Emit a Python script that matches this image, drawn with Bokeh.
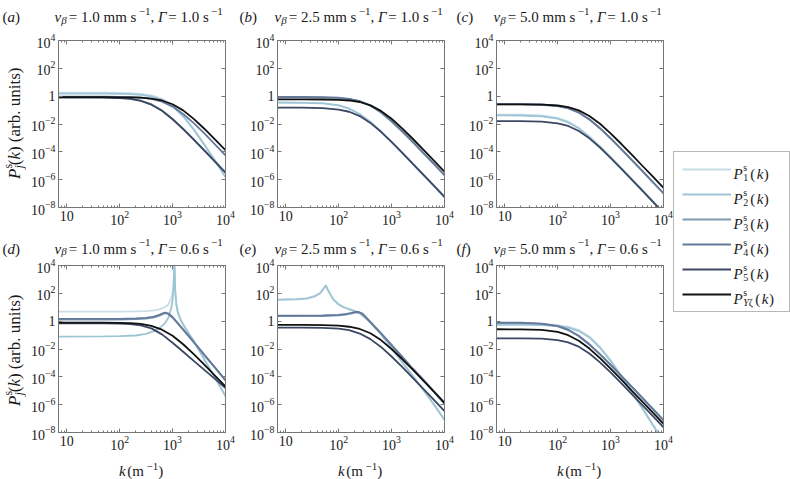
import math
import numpy as np
from bokeh.plotting import figure
from bokeh.models import (FixedTicker, LogTickFormatter, LogAxis, Label, Legend,
                          LegendItem, Range1d, CustomJSTickFormatter)
from bokeh.layouts import row, column
from bokeh.embed import file_html
from bokeh.resources import INLINE

# ---------------- data (k in m^-1, values are log10 of P) ----------------
SERIES = ["P1", "P2", "P3", "P4", "P5", "PYzeta"]
SUBS = ["1", "2", "3", "4", "5", "Yζ"]
COLORS = ["#c8dde8", "#9ec5d6", "#7d9ab0", "#63789a", "#3b4763", "#111111"]

X_TICKS = [10, 100, 1000, 10000]
Y_TICKS = [1e-8, 1e-6, 1e-4, 1e-2, 1, 1e2, 1e4]

K_GRID = [7, 20, 50, 100, 158, 251, 398, 631, 1000, 1585, 2512, 3981, 6310, 10000]

# (a) v=1.0, G=1.0
a_P1 = [0.25, 0.25, 0.25, 0.24, 0.22, 0.17, 0.06, -0.19, -0.65, -1.39, -2.34, -3.43, -4.58, -5.76]
a_P2 = [0.18, 0.18, 0.18, 0.17, 0.15, 0.10, -0.01, -0.26, -0.72, -1.46, -2.41, -3.50, -4.65, -5.83]
a_P3 = [-0.07, -0.07, -0.08, -0.11, -0.17, -0.31, -0.58, -1.02, -1.63, -2.34, -3.10, -3.88, -4.67, -5.47]
a_P4 = [-0.04, -0.04, -0.04, -0.05, -0.07, -0.11, -0.20, -0.39, -0.75, -1.28, -1.94, -2.68, -3.46, -4.25]
a_P5 = [-0.10, -0.10, -0.11, -0.14, -0.20, -0.34, -0.61, -1.05, -1.66, -2.37, -3.13, -3.91, -4.70, -5.50]
a_PY = [-0.07, -0.07, -0.07, -0.08, -0.09, -0.11, -0.17, -0.31, -0.58, -1.02, -1.63, -2.34, -3.10, -3.88]

# (b) v=2.5, G=1.0
b_P1 = [-0.45, -0.46, -0.50, -0.64, -0.88, -1.28, -1.84, -2.53, -3.28, -4.06, -4.86, -5.65, -6.45, -7.25]
b_P2 = [-0.47, -0.48, -0.52, -0.66, -0.90, -1.30, -1.86, -2.55, -3.30, -4.08, -4.88, -5.67, -6.47, -7.27]
b_P3 = [-0.09, -0.09, -0.10, -0.14, -0.22, -0.38, -0.69, -1.18, -1.82, -2.54, -3.31, -4.10, -4.89, -5.69]
b_P4 = [-0.06, -0.06, -0.07, -0.11, -0.19, -0.35, -0.66, -1.15, -1.79, -2.51, -3.28, -4.07, -4.86, -5.66]
b_P5 = [-0.83, -0.83, -0.86, -0.96, -1.12, -1.43, -1.92, -2.56, -3.28, -4.05, -4.84, -5.63, -6.43, -7.23]
b_PY = [-0.23, -0.23, -0.24, -0.26, -0.31, -0.42, -0.66, -1.06, -1.62, -2.31, -3.06, -3.84, -4.64, -5.43]

# (c) v=5.0, G=1.0
c_P1 = [-1.32, -1.33, -1.39, -1.56, -1.83, -2.27, -2.88, -3.59, -4.35, -5.13, -5.92, -6.72, -7.52, -8.32]
c_P2 = [-1.38, -1.39, -1.45, -1.62, -1.89, -2.33, -2.94, -3.65, -4.41, -5.19, -5.98, -6.78, -7.58, -8.38]
c_P3 = [-0.59, -0.59, -0.62, -0.72, -0.88, -1.19, -1.68, -2.32, -3.04, -3.81, -4.60, -5.39, -6.19, -6.99]
c_P4 = [-0.57, -0.57, -0.60, -0.70, -0.86, -1.17, -1.66, -2.30, -3.02, -3.79, -4.58, -5.37, -6.17, -6.97]
c_P5 = [-1.79, -1.80, -1.83, -1.95, -2.14, -2.50, -3.03, -3.69, -4.43, -5.21, -6.00, -6.79, -7.59, -8.39]
c_PY = [-0.59, -0.59, -0.61, -0.67, -0.78, -1.02, -1.42, -1.98, -2.67, -3.42, -4.20, -5.00, -5.79, -6.59]

# (d) v=1.0, G=0.6
d_K_RES = [7, 50, 100, 200, 316, 447, 562, 708, 832, 933, 1000, 1047, 1084, 1122, 1175, 1259, 1413, 1585, 1995, 2512, 3981, 6310, 10000]
d_P1 = [0.69, 0.69, 0.69, 0.70, 0.72, 0.78, 0.85, 1.0, 1.2, 1.6, 2.0, 2.8, 4.5, 2.3, 1.3, 0.7, 0.15, -0.2, -0.82, -1.42, -2.72, -4.02, -5.37]
d_P2 = [-1.11, -1.10, -1.08, -1.03, -0.92, -0.72, -0.50, -0.18, 0.25, 0.85, 1.5, 2.5, 4.5, 2.2, 1.2, 0.6, 0.1, -0.25, -0.85, -1.45, -2.75, -4.05, -5.40]
d_K_BUMP = [7, 50, 100, 200, 316, 447, 562, 661, 741, 832, 1000, 1585, 2512, 3981, 6310, 10000]
d_P3 = [0.11, 0.11, 0.12, 0.14, 0.19, 0.28, 0.40, 0.52, 0.57, 0.50, 0.25, -0.63, -1.53, -2.45, -3.36, -4.28]
d_P4 = [0.16, 0.16, 0.17, 0.19, 0.24, 0.33, 0.45, 0.57, 0.62, 0.55, 0.30, -0.58, -1.48, -2.40, -3.31, -4.23]
d_P5 = [-0.15, -0.15, -0.15, -0.17, -0.21, -0.30, -0.52, -0.95, -1.55, -2.20, -2.85, -3.50, -4.15, -4.80]
d_PY = [-0.10, -0.10, -0.10, -0.12, -0.14, -0.20, -0.34, -0.61, -1.05, -1.66, -2.37, -3.13, -3.91, -4.70]

# (e) v=2.5, G=0.6
e_K_RES = [7, 15.8, 25.1, 35.5, 44.7, 52.5, 57.5, 63.1, 79.4, 100, 126, 158, 200, 251, 316, 398, 631, 1000, 1585, 2512, 3981, 6310, 10000]
e_P1 = [1.57, 1.60, 1.66, 1.82, 2.04, 2.39, 2.59, 2.24, 1.59, 1.24, 1.02, 0.88, 0.76, 0.59, 0.29, -0.06, -0.91, -1.91, -2.91, -3.91, -4.91, -5.96, -7.06]
e_P2 = [1.53, 1.56, 1.62, 1.78, 2.0, 2.35, 2.55, 2.2, 1.55, 1.2, 0.98, 0.84, 0.72, 0.55, 0.25, -0.1, -0.95, -1.95, -2.95, -3.95, -4.95, -6.0, -7.1]
e_K_BUMP = [7, 50, 100, 141, 178, 209, 240, 282, 398, 631, 1000, 1585, 2512, 3981, 6310, 10000]
e_P3 = [0.36, 0.37, 0.41, 0.48, 0.56, 0.63, 0.62, 0.51, -0.09, -0.89, -1.74, -2.59, -3.44, -4.24, -5.09, -5.94]
e_P4 = [0.40, 0.41, 0.45, 0.52, 0.60, 0.67, 0.66, 0.55, -0.05, -0.85, -1.70, -2.55, -3.40, -4.20, -5.05, -5.90]
e_P5 = [-0.46, -0.46, -0.48, -0.54, -0.65, -0.89, -1.29, -1.85, -2.54, -3.29, -4.07, -4.87, -5.66, -6.46]
e_PY = [-0.27, -0.27, -0.28, -0.32, -0.40, -0.56, -0.87, -1.36, -2.00, -2.72, -3.49, -4.28, -5.07, -5.87]

# (f) v=5.0, G=0.6
f_P1 = [-0.20, -0.20, -0.22, -0.28, -0.39, -0.64, -1.10, -1.84, -2.79, -3.88, -5.03, -6.21, -7.41, -8.60]
f_P2 = [-0.27, -0.27, -0.29, -0.35, -0.46, -0.71, -1.17, -1.91, -2.86, -3.95, -5.10, -6.28, -7.48, -8.67]
f_P3 = [-0.13, -0.14, -0.20, -0.37, -0.64, -1.08, -1.69, -2.40, -3.16, -3.94, -4.73, -5.53, -6.33, -7.13]
f_P4 = [-0.10, -0.11, -0.17, -0.34, -0.61, -1.05, -1.66, -2.37, -3.13, -3.91, -4.70, -5.50, -6.30, -7.10]
f_P5 = [-1.23, -1.24, -1.26, -1.36, -1.52, -1.83, -2.32, -2.96, -3.68, -4.45, -5.24, -6.03, -6.83, -7.63]
f_PY = [-0.58, -0.59, -0.63, -0.77, -1.01, -1.41, -1.97, -2.66, -3.41, -4.19, -4.99, -5.78, -6.58, -7.38]

PANELS = [
    ("a", "1.0", "1.0", [(K_GRID, a_P1), (K_GRID, a_P2), (K_GRID, a_P3), (K_GRID, a_P4), (K_GRID, a_P5), (K_GRID, a_PY)]),
    ("b", "2.5", "1.0", [(K_GRID, b_P1), (K_GRID, b_P2), (K_GRID, b_P3), (K_GRID, b_P4), (K_GRID, b_P5), (K_GRID, b_PY)]),
    ("c", "5.0", "1.0", [(K_GRID, c_P1), (K_GRID, c_P2), (K_GRID, c_P3), (K_GRID, c_P4), (K_GRID, c_P5), (K_GRID, c_PY)]),
    ("d", "1.0", "0.6", [(d_K_RES, d_P1), (d_K_RES, d_P2), (d_K_BUMP, d_P3), (d_K_BUMP, d_P4), (K_GRID, d_P5), (K_GRID, d_PY)]),
    ("e", "2.5", "0.6", [(e_K_RES, e_P1), (e_K_RES, e_P2), (e_K_BUMP, e_P3), (e_K_BUMP, e_P4), (K_GRID, e_P5), (K_GRID, e_PY)]),
    ("f", "5.0", "0.6", [(K_GRID, f_P1), (K_GRID, f_P2), (K_GRID, f_P3), (K_GRID, f_P4), (K_GRID, f_P5), (K_GRID, f_PY)]),
]

# ---------------- styling ----------------
SERIF = "Liberation Serif"
FRAME = "#767676"
TXT = "#1a1a1a"

W_REG = {' ': 250, '=': 564, '.': 250, ',': 250, 'm': 778, 's': 389, '(': 333, ')': 333,
         'a': 444, 'r': 333, 'b': 500, 'u': 500, 'n': 500, 'i': 278, 't': 278, '−': 564,
         'β': 560, 'ζ': 450, '1': 500}
W_IT = {'v': 444, 'P': 611, 'k': 444, 'Γ': 690, 'j': 278, 'Y': 556, 'a': 500, 'b': 500,
        'c': 444, 'd': 500, 'e': 444, 'f': 278, 'β': 560, 's': 389}


def tw(text, size, italic):
    table = W_IT if italic else W_REG
    return sum(table.get(ch, 500) for ch in text) * size / 1000.0


def put_text(p, x0, y0, pieces, angle=0.0):
    """pieces: (text, size, italic, dy, advance, pre_shift)"""
    pos = 0.0
    for piece in pieces:
        text, size, italic, dy, adv = piece[:5]
        pre = piece[5] if len(piece) > 5 else 0.0
        pos += pre
        if angle == 0.0:
            x, y = x0 + pos, y0 + dy
        else:
            x, y = x0 - dy, y0 + pos
        p.add_layout(Label(x=x, y=y, x_units="screen", y_units="screen", text=text,
                           text_font=SERIF, text_font_size=f"{size}px",
                           text_font_style="italic" if italic else "normal",
                           text_color=TXT, text_align="left", text_baseline="alphabetic",
                           angle=angle, level="overlay"))
        if adv:
            pos += tw(text, size, italic)


def strip(width, height):
    s = figure(width=width, height=height, toolbar_location=None, output_backend="svg",
               x_axis_location=None, y_axis_location=None, min_border=0,
               outline_line_color=None, x_range=Range1d(0, width), y_range=Range1d(0, height),
               background_fill_color="white", border_fill_color="white")
    s.xgrid.visible = False
    s.ygrid.visible = False
    return s


def x_minor():
    out = []
    for dec in (1, 10, 100, 1000):
        for m in range(2, 10):
            v = m * dec
            if 7 <= v <= 10000:
                out.append(v)
    return out


def style_axis(ax, standoff, size="14px"):
    ax.major_tick_in = 4
    ax.major_tick_out = 0
    ax.minor_tick_in = 2
    ax.minor_tick_out = 0
    ax.axis_line_color = FRAME
    ax.major_tick_line_color = FRAME
    ax.minor_tick_line_color = FRAME
    ax.major_label_text_font = SERIF
    ax.major_label_text_color = TXT
    ax.major_label_standoff = standoff
    ax.major_label_text_font_size = size


def make_panel(spec, borders):
    letter, vb, gam, curves = spec
    left, right, top, bottom = borders
    p = figure(width=left + 167 + right, height=top + 167 + bottom,
               x_axis_type="log", y_axis_type="log",
               x_range=Range1d(7, 10000), y_range=Range1d(1e-8, 1e4),
               min_border_left=left, min_border_right=right,
               min_border_top=top, min_border_bottom=bottom,
               toolbar_location=None, output_backend="svg",
               outline_line_color=FRAME, outline_line_width=1,
               background_fill_color="white", border_fill_color="white")
    p.xgrid.visible = False
    p.ygrid.visible = False

    xt = FixedTicker(ticks=X_TICKS, minor_ticks=x_minor())
    yt = FixedTicker(ticks=Y_TICKS, minor_ticks=[])
    p.xaxis[0].ticker = xt
    p.yaxis[0].ticker = yt
    p.xaxis[0].formatter = LogTickFormatter()
    p.yaxis[0].formatter = LogTickFormatter()
    p.xaxis[0].major_label_overrides = {10: "10"}
    p.yaxis[0].major_label_overrides = {1: "1"}
    style_axis(p.xaxis[0], 3)
    style_axis(p.yaxis[0], 3)

    blank = CustomJSTickFormatter(code="return ''")
    top_ax = LogAxis(ticker=xt, formatter=blank)
    style_axis(top_ax, 0, "1px")
    p.add_layout(top_ax, "above")
    right_ax = LogAxis(ticker=yt, formatter=blank)
    style_axis(right_ax, 0, "1px")
    p.add_layout(right_ax, "right")

    for (ks, vals), color in zip(curves, COLORS):
        p.line(ks, 10.0 ** np.asarray(vals, dtype=float), line_color=color, line_width=1.8)
    return p


def title_strip(specs, height, baseline):
    s = strip(673, height)
    letter_x = [2, 239, 456]
    title_x = [54, 274, 493]
    for (letter, vb, gam, _), lx, tx in zip(specs, letter_x, title_x):
        put_text(s, lx, baseline, [("(", 15, False, 0, True), (letter, 15, True, 0, True),
                                   (")", 15, False, 0, True)])
        put_text(s, tx, baseline, [("v", 15, True, 0, True), ("β", 11, True, -2.5, True),
                                   (" = " + vb + " mm s", 15, False, 0, True, 1.5),
                                   ("−1", 11, False, 6, True, -1.5),
                                   (", ", 15, False, 0, True), ("Γ", 15, True, 0, True),
                                   (" = " + gam + " s", 15, False, 0, True),
                                   ("−1", 11, False, 6, True, -1.5)])
    return s


def ylabel_strip(height, y0):
    s = strip(26, height)
    pieces = [("P", 17, True, 0, True), ("s", 12, False, 7, False), ("j", 12, True, -4, True),
              ("(", 17, False, 0, True), ("k", 17, True, 0, True),
              (") (arb. units)", 17, False, 0, True)]
    put_text(s, 14, y0, pieces, angle=math.pi / 2)
    return s


def xlabel_strip(height):
    s = strip(673, height)
    for cx in (141.5, 360.5, 579.5):
        put_text(s, cx - 23, 9, [("k", 15, True, 0, True), (" (m", 15, False, 0, True, 1.5),
                                 ("−1", 11, False, 4, True, -1.0), (")", 15, False, 0, True)])
    return s


# column borders (left, right) and row borders (top, bottom)
COLB = [(32, 15), (37, 15), (37, 10)]
ROWB = [(10, 28), (7, 26)]

figs = []
for i, spec in enumerate(PANELS):
    r, c = divmod(i, 3)
    figs.append(make_panel(spec, (COLB[c][0], COLB[c][1], ROWB[r][0], ROWB[r][1])))

top_titles = title_strip(PANELS[0:3], 30, 13.5)
bot_titles = title_strip(PANELS[3:6], 23, 10)
row1 = row(ylabel_strip(205, 28.5), figs[0], figs[1], figs[2])
row2 = row(ylabel_strip(200, 26.5), figs[3], figs[4], figs[5])
left_part = column(top_titles, row1, bot_titles, row2, xlabel_strip(21))

# ---------------- legend column ----------------
lf = figure(width=117, height=479, toolbar_location=None, output_backend="svg",
            x_axis_location=None, y_axis_location=None, min_border=0,
            outline_line_color=None, x_range=Range1d(0, 1), y_range=Range1d(0, 1),
            background_fill_color="white", border_fill_color="white")
lf.xgrid.visible = False
lf.ygrid.visible = False
items = []
for name, color in zip(SERIES, COLORS):
    r = lf.line(x=[-5, -4], y=[-5, -4], line_color=color, line_width=2)
    items.append(LegendItem(label=" ", renderers=[r]))
legend = Legend(items=items, location=(0, 167), padding=8, spacing=7, glyph_width=49,
                glyph_height=18, label_height=18, label_width=47, label_standoff=3,
                border_line_color="#707070", border_line_width=1, margin=0,
                background_fill_alpha=0.0)
lf.add_layout(legend)
for i, sub in enumerate(SUBS):
    y0 = 306 - 25 * i
    pieces = [("P", 15, True, 0, True), ("s", 10, False, 6, False, 0.5)]
    if sub == "Yζ":
        pieces += [("Y", 10, True, -4, True), ("ζ", 10, False, -4, True)]
    else:
        pieces += [(sub, 10, False, -4, True)]
    pieces += [("(", 15, False, 0, True, 2.0), ("k", 15, True, 0, True, 1.5),
               (")", 15, False, 0, True, 0.5)]
    put_text(lf, 60, y0, pieces)

layout = row(left_part, lf)

open("out.html", "w").write(file_html(layout, INLINE))
